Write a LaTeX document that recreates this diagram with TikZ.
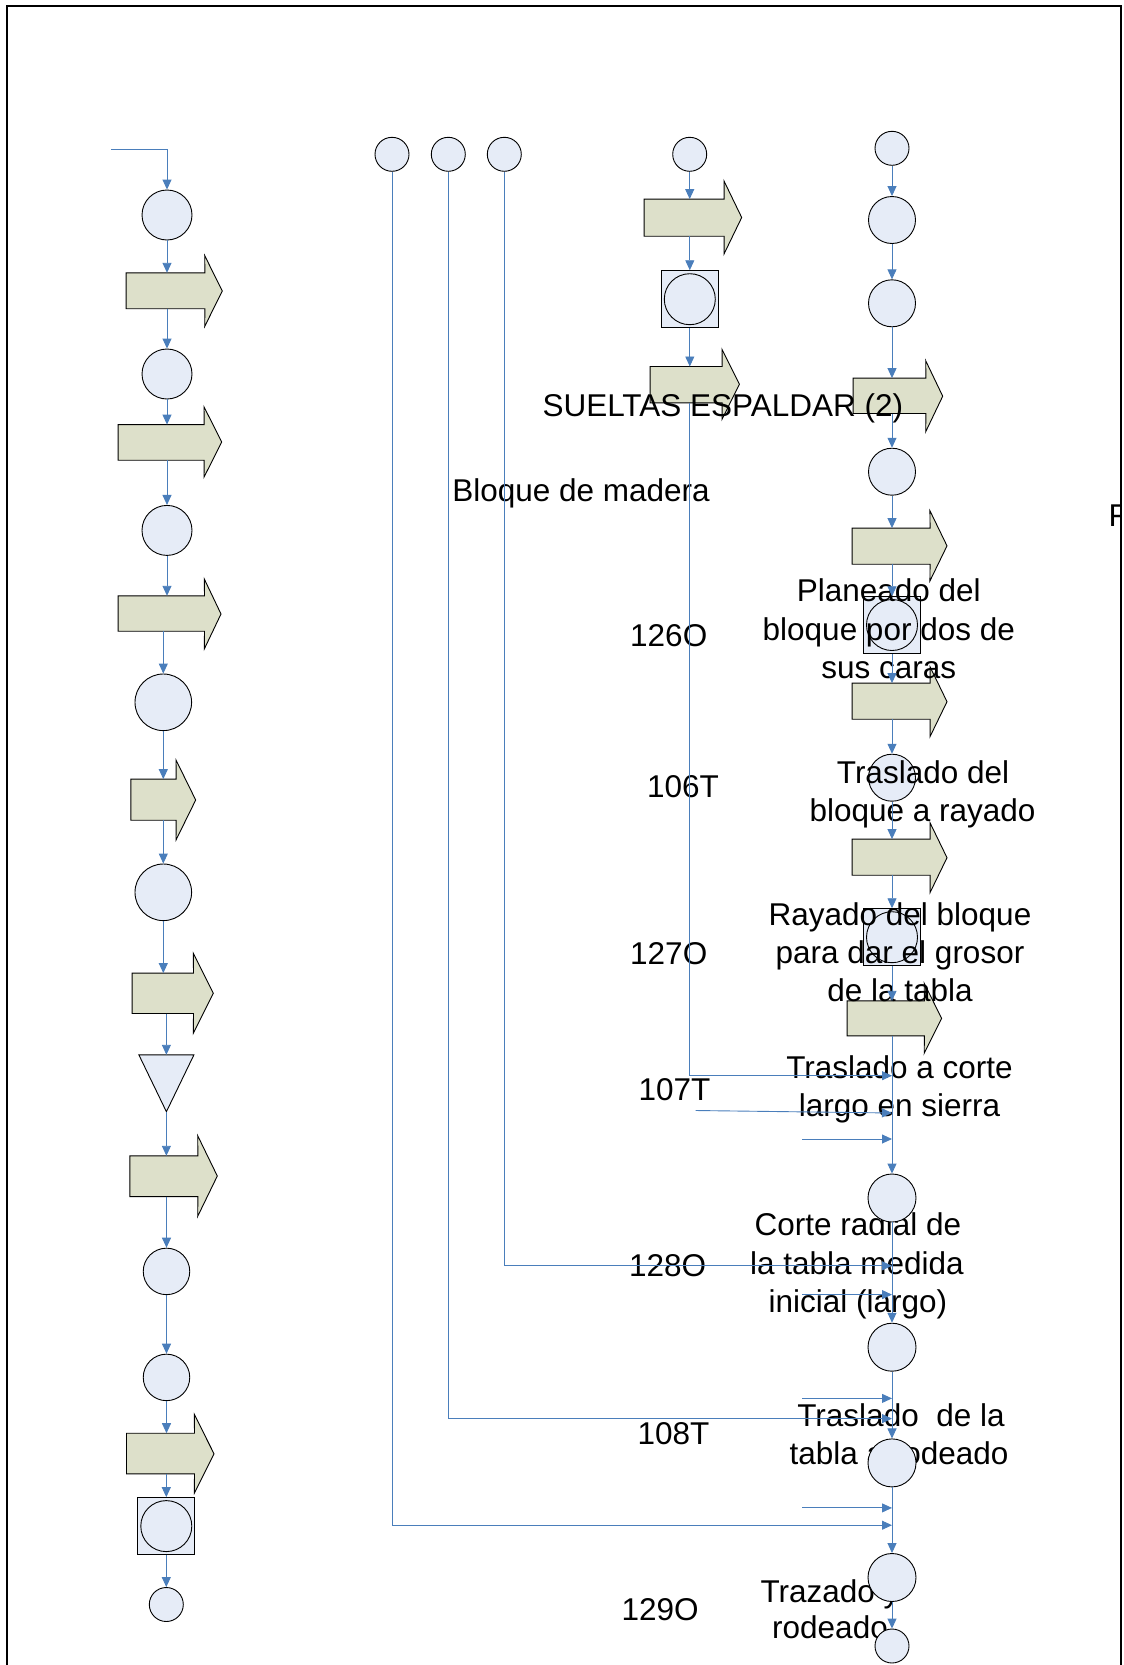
\documentclass[tikz,border=0pt]{standalone}
\usepackage{fontspec}
\setmainfont{Liberation Sans}
\usetikzlibrary{arrows.meta}

\definecolor{discfill}{HTML}{E6ECF7}
\definecolor{tanfill}{HTML}{DDE0CA}
\definecolor{flowblue}{HTML}{4A7EBB}

\tikzset{
  circ/.style={circle, draw=black, line width=0.9pt, fill=discfill, inner sep=0pt, minimum size=#1},
  sqbox/.style={rectangle, draw=black, line width=0.9pt, fill=discfill, inner sep=0pt, minimum size=#1},
  shaftbox/.style={rectangle, inner sep=0pt},
  bigarrow/.style={draw=black, line width=0.9pt, fill=tanfill},
  trishape/.style={draw=black, line width=0.9pt, fill=discfill},
  flow/.style={draw=flowblue, line width=0.9pt, -{Triangle[length=10pt,width=9pt]}},
  lbl/.style={inner sep=0pt, font=\fontsize{31.5pt}{38pt}\selectfont, anchor=base},
  lblw/.style={lbl, anchor=base west},
}

% #1 name, #2 left, #3 shaft top, #4 shaft bottom, #5 shaft right,
% #6 head top, #7 head bottom, #8 tip x
\newcommand\blockarrow[8]{%
  \node[shaftbox, minimum width={(#5)-(#2)}, minimum height={(#4)-(#3)}]
    (#1) at ({((#2)+(#5))/2},{((#3)+(#4))/2}) {};
  \path[bigarrow] (#1.north west) -- (#1.north east) -- (#5,#6)
    -- (#8,{((#6)+(#7))/2}) -- (#5,#7) -- (#1.south east)
    -- (#1.south west) -- cycle;
}

\begin{document}
\begin{tikzpicture}[x=1pt, y=-1pt]
\useasboundingbox (0,0) rectangle (1124,1665);
\clip (0,0) rectangle (1124,1665);

% ---------- left column ----------
\coordinate (s0) at (111,149.3);
\node[circ=50] (cLa) at (167,215) {};
\blockarrow{bLa}{126.3}{273}{308.5}{204.7}{255.6}{326.4}{222.3}
\node[circ=50] (cLb) at (167,374) {};
\blockarrow{bLb}{118.3}{424.8}{460}{204}{406.8}{477.2}{221.7}
\node[circ=50] (cLc) at (167,530.4) {};
\blockarrow{bLc}{118.3}{596}{631}{204.3}{579}{649}{221}
\node[circ=56.6] (cLd) at (163.3,702.3) {};
\blockarrow{bLd}{131}{779.3}{820}{176}{760}{840}{195.7}
\node[circ=56.6] (cLe) at (163.3,892.3) {};
\blockarrow{bLe}{132.3}{973.3}{1013.3}{193.3}{953.3}{1033.3}{213.3}
\node[shaftbox, minimum width=54.7, minimum height=56.5] (tri) at (166.4,1083.25) {};
\path[trishape] (tri.north west) -- (tri.north east) -- (tri.south) -- cycle;
\blockarrow{bLf}{130}{1156}{1196.4}{197.7}{1135.7}{1216.3}{217.3}
\node[circ=46.5] (cLf) at (166.5,1271.4) {};
\node[circ=46.5] (cLg) at (166.5,1377.4) {};
\blockarrow{bLg}{126.7}{1433.4}{1473.7}{194.3}{1414.3}{1493.2}{214}
\node[sqbox=57] (sqL) at (166.3,1526.1) {};
\node[circ=51] (sqLi) at (sqL.center) {};
\node[circ=34] (cLh) at (166.3,1604.5) {};

% ---------- feeder circles ----------
\node[circ=34] (m1) at (392,154.3) {};
\node[circ=34] (m2) at (448.3,154.3) {};
\node[circ=34] (m3) at (504.3,154.3) {};

% ---------- second column ----------
\node[circ=34] (cCa) at (689.7,154.3) {};
\blockarrow{bCa}{644.3}{199.3}{236}{724}{181}{254}{741.7}
\node[sqbox=57] (sqC) at (689.8,299.2) {};
\node[circ=51] (sqCi) at (sqC.center) {};
\blockarrow{bCb}{650.3}{366.7}{402.7}{722}{349.3}{419.3}{739.4}

% ---------- right column (upper part) ----------
\node[circ=34] (cRa) at (892,148.3) {};
\node[circ=47] (cRb) at (892,220) {};
\node[circ=47] (cRc) at (892,303.3) {};
\blockarrow{bRa}{853.3}{378.3}{413.3}{925.7}{360.7}{431.7}{942.7}
\node[circ=47] (cRd) at (892,471.7) {};
\blockarrow{bRb}{852.3}{528.3}{564}{929.9}{510.7}{581}{947}
\node[sqbox=56.6] (sqRa) at (892,625) {};
\node[circ=51] (sqRai) at (sqRa.center) {};
\blockarrow{bRc}{852.3}{683.3}{719}{930}{666.7}{736.7}{947}
\node[circ=47] (cRe) at (892,777.7) {};
\blockarrow{bRd}{852.3}{839.3}{875}{930}{822.7}{892.7}{947}
\node[sqbox=57] (sqRb) at (892,937.2) {};
\node[circ=51] (sqRbi) at (sqRb.center) {};
\blockarrow{bRe}{847.3}{1001}{1035.7}{924.2}{983.3}{1053.3}{941.6}

% ---------- labels ----------
\node[lbl] (tSue) at (722.8,416) {SUELTAS ESPALDAR (2)};
\node[lbl] (tBlo) at (581,501.7) {Bloque de madera};
\begin{scope}
  \clip (0,0) rectangle (1121,1665);
  \node[lblw] (tF) at (1108.3,526) {F};
\end{scope}

\node[lblw] (n126) at (630,646.7) {126O};
\node[lbl] (tPa) at (888.8,601.7) {Planeado del};
\node[lbl] (tPb) at (888.8,640) {bloque por dos de};
\node[lbl] (tPc) at (888.8,678.3) {sus caras};

\node[lblw] (n106) at (646.8,797.7) {106T};
\node[lbl] (tTa) at (923,783.3) {Traslado del};
\node[lbl] (tTb) at (922.5,821.7) {bloque a rayado};

\node[lblw] (n127) at (630,964.3) {127O};
\node[lbl] (tRa) at (900,925) {Rayado del bloque};
\node[lbl] (tRb) at (900,963.3) {para dar el grosor};
\node[lbl] (tRc) at (900,1001.7) {de la tabla};

\node[lblw] (n107) at (638.4,1100) {107T};
\node[lbl] (tCa) at (899.5,1078.3) {Traslado a corte};
\node[lbl] (tCb) at (899.5,1116.7) {largo en sierra};

\node[lblw] (n128) at (628.9,1276.6) {128O};
\node[lbl] (tKa) at (858,1235) {Corte radial de};
\node[lbl] (tKb) at (857,1274.8) {la tabla medida};
\node[lbl] (tKc) at (858,1312.6) {inicial (largo)};

\node[lblw] (n108) at (637.3,1444.1) {108T};
\node[lbl] (tLa) at (901,1426) {Traslado\ \ de la};
\node[lbl] (tLb) at (899,1464.7) {tabla a rodeado};

\node[lblw] (n129) at (621.5,1620.7) {129O};
\node[lbl] (tZa) at (830,1602.7) {Trazado y};
\node[lbl] (tZb) at (830,1638.7) {rodeado};

% ---------- right column (lower part) ----------
\node[circ=48] (cRf) at (892,1198) {};
\node[circ=48] (cRg) at (892,1347.2) {};
\node[circ=48] (cRh) at (892,1462.9) {};
\node[circ=48] (cRi) at (892,1577.5) {};
\node[circ=34] (cRj) at (892,1646) {};

% junction points on the right column
\coordinate (j1) at (892,1075.7);
\coordinate (j2) at (892,1113);
\coordinate (j3) at (892,1139);
\coordinate (j4) at (892,1265.8);
\coordinate (j5) at (892,1294.6);
\coordinate (j6) at (892,1398.4);
\coordinate (j7) at (892,1418.6);
\coordinate (j8) at (892,1507.9);
\coordinate (j9) at (892,1525.2);
\coordinate (h2) at (695.5,1110.5);
\coordinate (h3) at (802,1139);
\coordinate (h5) at (802,1294.6);
\coordinate (h6) at (802,1398.4);
\coordinate (h8) at (802,1507.9);

% ---------- connectors: left column ----------
\draw[flow] (s0) -| (cLa);
\draw[flow] (cLa) -- (cLa |- bLa.north);
\draw[flow] (bLa.south -| cLb) -- (cLb);
\draw[flow] (cLb) -- (cLb |- bLb.north);
\draw[flow] (bLb.south -| cLc) -- (cLc);
\draw[flow] (cLc) -- (cLc |- bLc.north);
\draw[flow] (bLc.south -| cLd) -- (cLd);
\draw[flow] (cLd) -- (cLd |- bLd.north);
\draw[flow] (bLd.south -| cLe) -- (cLe);
\draw[flow] (cLe) -- (cLe |- bLe.north);
\draw[flow] (bLe.south -| tri) -- (tri);
\draw[flow] (tri.south) -- (tri.south |- bLf.north);
\draw[flow] (bLf.south -| cLf) -- (cLf);
\draw[flow] (cLf) -- (cLg);
\draw[flow] (cLg) -- (cLg |- bLg.north);
\draw[flow] (bLg.south -| sqL) -- (sqL);
\draw[flow] (sqL) -- (cLh);

% ---------- connectors: feeders ----------
\draw[flow] (m1) |- (j9);
\draw[flow] (m2) |- (j7);
\draw[flow] (m3) |- (j4);

% ---------- connectors: second column ----------
\draw[flow] (cCa) -- (cCa |- bCa.north);
\draw[flow] (bCa.south -| sqC) -- (sqC);
\draw[flow] (sqC) -- (sqC |- bCb.north);
\draw[flow] (bCb.south -| sqC) |- (j1);

% ---------- connectors: right column ----------
\draw[flow] (cRa) -- (cRb);
\draw[flow] (cRb) -- (cRc);
\draw[flow] (cRc) -- (cRc |- bRa.north);
\draw[flow] (bRa.south -| cRd) -- (cRd);
\draw[flow] (cRd) -- (cRd |- bRb.north);
\draw[flow] (bRb.south -| sqRa) -- (sqRa);
\draw[flow] (sqRa) -- (sqRa |- bRc.north);
\draw[flow] (bRc.south -| cRe) -- (cRe);
\draw[flow] (cRe) -- (cRe |- bRd.north);
\draw[flow] (bRd.south -| sqRb) -- (sqRb);
\draw[flow] (sqRb) -- (sqRb |- bRe.north);
\draw[flow] (bRe.south -| cRf) -- (cRf);
\draw[flow] (cRf) -- (cRg);
\draw[flow] (cRg) -- (cRh);
\draw[flow] (cRh) -- (cRi);
\draw[flow] (cRi) -- (cRj);

% short incoming arrows
\draw[flow] (h2) -- (j2);
\draw[flow] (h3) -- (j3);
\draw[flow] (h5) -- (j5);
\draw[flow] (h6) -- (j6);
\draw[flow] (h8) -- (j8);

% ---------- page frame ----------
\draw[line width=2.5pt] (7,1680) -- (7,6) -- (1121,6) -- (1121,1680);
\end{tikzpicture}
\end{document}
